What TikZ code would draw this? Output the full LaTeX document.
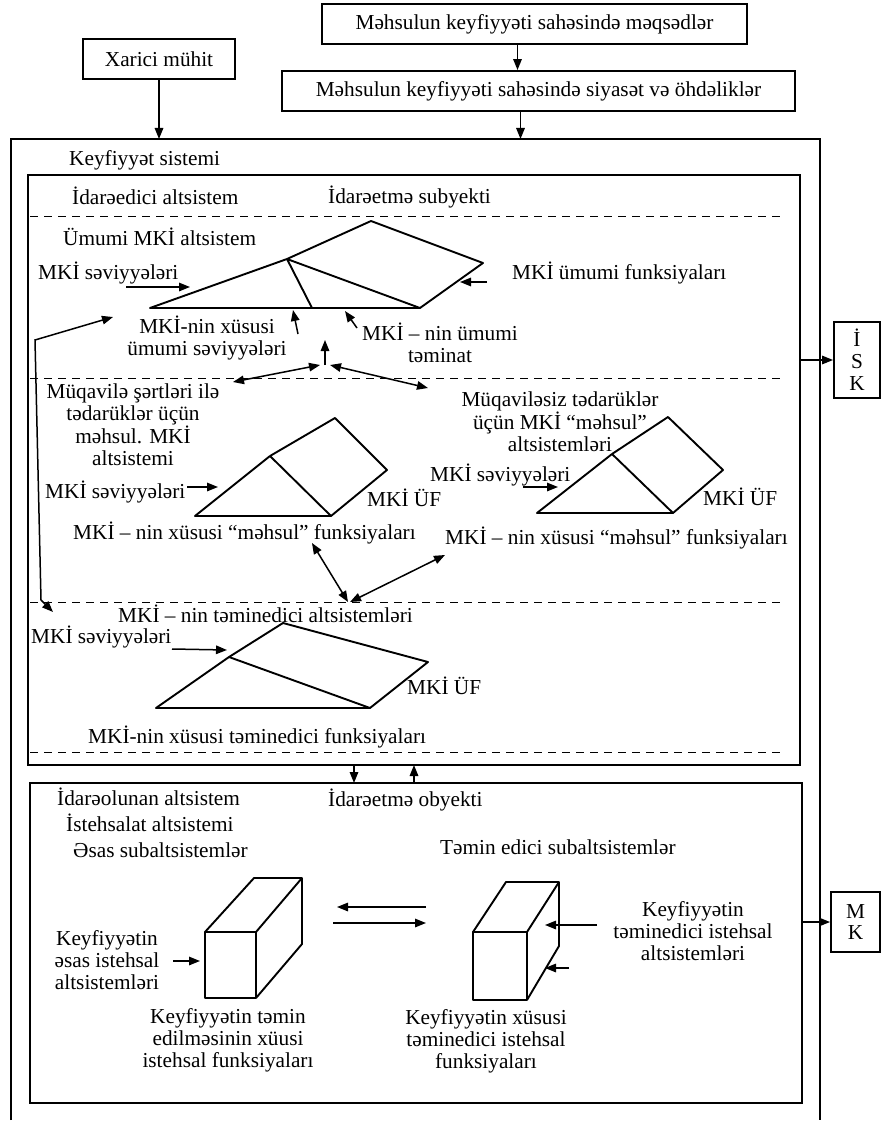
\documentclass[tikz,border=0pt]{standalone}
\usepackage{fontspec}
\setmainfont{Liberation Serif}
\usetikzlibrary{arrows.meta}
\begin{document}
\begin{tikzpicture}[x=1pt,y=-1pt,
  every node/.style={font=\fontsize{21.3}{21.8}\selectfont, inner sep=0pt},
  box/.style={draw, line width=1.9pt, minimum height=40pt, align=center},
  edge/.style={line width=1.9pt},
  arr/.style={-{Triangle[length=11pt,width=8.5pt]}, line width=1.5pt},
  dbl/.style={{Triangle[length=11pt,width=8.5pt]}-{Triangle[length=11pt,width=8.5pt]}, line width=1.5pt},
  sep/.style={dash pattern=on 8pt off 6pt, line width=1pt},
  lbl/.style={anchor=west},
  stack/.style={align=center}]
  \useasboundingbox (0,0) rectangle (883,1121);
  % top boxes
  \node[box, minimum width=425pt] (goal) at (534.5,24) {Məhsulun keyfiyyəti sahəsində məqsədlər};
  \node[box, minimum width=513pt] (policy) at (538.5,91) {Məhsulun keyfiyyəti sahəsində siyasət və öhdəliklər};
  \node[box, minimum width=152pt] (env) at (159,59) {Xarici mühit};
  % quality system frame
  \draw[edge] (11,1120) -- (11,139) coordinate (qs) -- (820,139) -- (820,1120);
  \coordinate (ga) at ([xshift=-17pt]goal.south);
  \coordinate (pa) at ([xshift=-18pt]policy.south);
  \draw[arr] (ga) -- (ga |- policy.north);
  \draw[arr] (pa) -- (pa |- qs);
  \draw[arr] (env) -- (env |- qs);
  \node[lbl] (qsys) at (69,160) {Keyfiyyət sistemi};
  % controlling subsystem
  \draw[edge] (28,175) rectangle (800,765) coordinate (ctlse);
  \node[lbl] (ctl) at (72,196) {İdarəedici altsistem};
  \node[lbl] (subj) at (328,197) {İdarəetmə subyekti};
  \foreach \y in {216,378,602,752} \draw[sep] (30,\y) -- (783,\y);
  % general subsystem
  \node[lbl] (gen) at (63,237) {Ümumi MKİ altsistem};
  \draw[edge, line join=round] (150,308) -- (287,259) -- (371,221) -- (483,263) -- (420,308) -- cycle;
  \draw[edge] (287,259) -- (312,308) (287,259) -- (420,308);
  \node[lbl] (lev1) at (38,273) {MKİ səviyyələri};
  \draw[arr] (126,287) -- (190,287);
  \node[lbl] (fun1) at (512,273) {MKİ ümumi funksiyaları};
  \draw[arr] (487,282) -- (460,282);
  \node[stack] (own1) at (207,338) {MKİ-nin xüsusi\\ümumi səviyyələri};
  \draw[arr] (298,334) -- (293,310);
  \draw[arr] (357,328) -- (345,311);
  \node[stack] (sup1) at (440,343) {MKİ – nin ümumi\\təminat};
  \coordinate (hub) at (325,365);
  \draw[arr] (hub) -- (325,340);
  \draw[dbl] (233,382) -- (320,365);
  \draw[dbl] (330,365) -- (428,388);
  \draw[dbl] (113,317) -- (35,340) -- (41,600) -- (53,612);
  % product subsystems
  \node[stack] (ctr) at (133,425) {Müqavilə şərtləri ilə\\tədarüklər üçün\\məhsul. MKİ\\altsistemi};
  \draw[edge, line join=round] (195,516) -- (270,456) -- (331,516) -- cycle;
  \draw[edge, line join=round] (270,456) -- (335,418) -- (387,470) -- (331,516);
  \node[lbl] (lev2) at (45,492) {MKİ səviyyələri};
  \draw[arr] (187,487) -- (218,487);
  \node[lbl] (uf2) at (367,498) {MKİ ÜF};
  \node[lbl] (prod2) at (73,533) {MKİ – nin xüsusi “məhsul” funksiyaları};
  \node[stack] (nctr) at (560,422) {Müqaviləsiz tədarüklər\\üçün MKİ “məhsul”\\altsistemləri};
  \draw[edge, line join=round] (537,513) -- (612,454) -- (673,513) -- cycle;
  \draw[edge, line join=round] (612,454) -- (668,417) -- (723,470) -- (673,513);
  \node[lbl] (lev3) at (430,475) {MKİ səviyyələri};
  \draw[arr] (523,487) -- (558,487);
  \node[lbl] (uf3) at (703,497) {MKİ ÜF};
  \node[lbl] (prod3) at (445,538) {MKİ – nin xüsusi “məhsul” funksiyaları};
  \draw[dbl] (312,543) -- (348,602);
  \draw[dbl] (350,602) -- (445,555);
  % supporting subsystems
  \node[lbl] (sup4) at (118,614) {MKİ – nin təminedici altsistemləri};
  \draw[edge, line join=round] (156,708) -- (229,657) -- (283,623) -- (428,662) -- (370,708) -- cycle;
  \draw[edge] (229,657) -- (370,708);
  \node[lbl] (lev4) at (31,637) {MKİ səviyyələri};
  \draw[arr] (172,649) -- (227,650);
  \node[lbl] (uf4) at (407,686) {MKİ ÜF};
  \node[lbl] (own4) at (88,737) {MKİ-nin xüsusi təminedici funksiyaları};
  % controlled subsystem
  \draw[edge] (30,783) coordinate (objnw) rectangle (802,1103);
  \coordinate (dn) at (354,765);
  \coordinate (up) at (414,783);
  \draw[arr] (dn) -- (dn |- objnw);
  \draw[arr] (up) -- (up |- ctlse);
  \node[lbl] (obj1) at (57,797) {İdarəolunan altsistem};
  \node[lbl] (obj2) at (66,823) {İstehsalat altsistemi};
  \node[lbl] (obj3) at (73,850) {Əsas subaltsistemlər};
  \node[lbl] (objt) at (328,800) {İdarəetmə obyekti};
  \node[lbl] (supp) at (440,847) {Təmin edici subaltsistemlər};
  \draw[edge, line join=round] (205,932) rectangle (256,998);
  \draw[edge, line join=round] (205,932) -- (254,878) -- (302,878) -- (302,944) -- (256,998) (256,932) -- (302,878);
  \draw[edge, line join=round] (473,932) rectangle (527,1000);
  \draw[edge, line join=round] (473,932) -- (506,882) -- (559,882) -- (559,946) -- (527,1000) (527,932) -- (559,882);
  \draw[arr] (426,907) -- (337,907);
  \draw[arr] (333,923) -- (426,923);
  \node[stack] (base1) at (107,960) {Keyfiyyətin\\əsas istehsal\\altsistemləri};
  \draw[arr] (173,961) -- (200,961);
  \node[stack] (f1) at (228,1040) {Keyfiyyətin təmin\\edilməsinin xüusi\\istehsal funksiyaları};
  \node[stack] (f2) at (486,1041) {Keyfiyyətin xüsusi\\təminedici istehsal\\funksiyaları};
  \node[stack] (base2) at (693,931) {Keyfiyyətin\\təminedici istehsal\\altsistemləri};
  \draw[arr] (597,925) -- (545,925);
  \draw[arr] (569,968) -- (545,968);
  % outputs
  \node[box, minimum width=46pt, minimum height=76pt] (isk) at (857,360) {İ\\S\\K};
  \node[box, minimum width=49pt, minimum height=60pt] (mk) at (855.5,922) {M\\K};
  \coordinate (iskin) at (800,360);
  \coordinate (mkin) at (802,922);
  \draw[arr] (iskin) -- (isk);
  \draw[arr] (mkin) -- (mk);
\end{tikzpicture}
\end{document}
